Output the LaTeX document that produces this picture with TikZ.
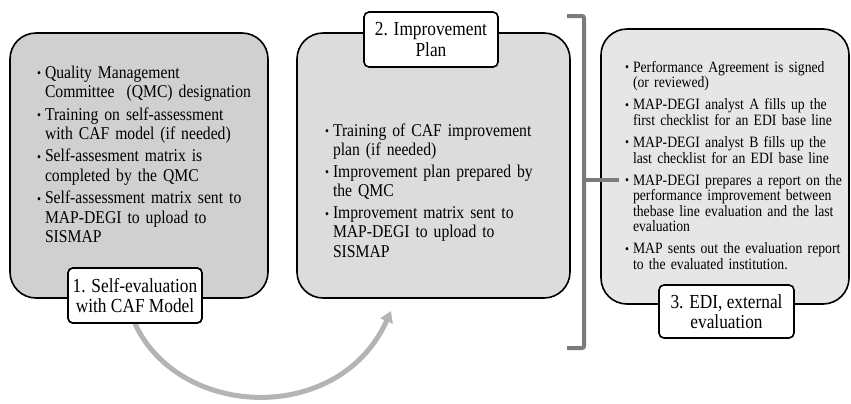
\documentclass[tikz,border=0pt]{standalone}
\usepackage{fontspec}
\setmainfont{Liberation Serif}[FakeStretch=0.87]
\usetikzlibrary{arrows.meta}

\definecolor{fillA}{HTML}{D0D0D0}
\definecolor{fillB}{HTML}{DCDCDC}
\definecolor{fillC}{HTML}{E6E6E6}
\definecolor{flowgray}{HTML}{B4B4B4}
\definecolor{bracketgray}{HTML}{7B7B7B}

% bullet item: bullet, then the item's lines stacked in a one-column table
\newcommand\bul[1]{\noindent
  \makebox[8bp][l]{\raisebox{0.04em}{\fontsize{13bp}{13bp}\selectfont\textbullet}}%
  \begin{tabular}[t]{@{}l@{}}#1\end{tabular}\par}

\begin{document}
\begin{tikzpicture}[x=1bp,y=-1bp,
  phase/.style={draw=black, line width=1.6bp, rounded corners=26bp, inner sep=0pt},
  tag/.style={draw=black, fill=white, line width=1.6bp, rounded corners=5bp,
    align=center, inner sep=0pt, font=\fontsize{19.9bp}{20.5bp}\selectfont},
  items/.style={anchor=base west, inner sep=0pt, outer sep=0pt,
    execute at begin node={\setlength{\parskip}{#1}}},
  flow/.style={draw=flowgray, line width=5bp, -{Triangle[length=11bp,width=13bp]}},
  bracket/.style={draw=bracketgray, line width=4bp, rounded corners=2bp}]

\useasboundingbox (0,0) rectangle (851,403);

% the three phase panels
\node[phase, fill=fillA, minimum width=258bp, minimum height=265bp] (p1) at (139,165.5) {};
\node[phase, fill=fillB, minimum width=273bp, minimum height=265bp] (p2) at (433.5,165.5) {};
\node[phase, fill=fillC, minimum width=248bp, minimum height=275bp] (p3) at (725,166.5) {};

% activities of each phase
\node[items=2bp, text width=222bp, font=\fontsize{18bp}{19.5bp}\selectfont] (t1) at (37,78) {%
\bul{Quality Management\\Committee\ \ (QMC) designation}
\bul{Training on self-assessment\\with CAF model (if needed)}
\bul{Self-assesment matrix is\\completed by the QMC}
\bul{Self-assessment matrix sent to\\MAP-DEGI to upload to\\SISMAP}};

\node[items=2.5bp, text width=232bp, font=\fontsize{18bp}{19bp}\selectfont] (t2) at (325,136) {%
\bul{Training of CAF improvement\\plan (if needed)}
\bul{Improvement plan prepared by\\the QMC}
\bul{Improvement matrix sent to\\MAP-DEGI to upload to\\SISMAP}};

\node[items=5.5bp, text width=220bp, font=\fontsize{15.75bp}{15.3bp}\selectfont] (t3) at (625,72) {%
\bul{Performance Agreement is signed\\(or reviewed)}
\bul{MAP-DEGI analyst A fills up the\\first checklist for an EDI base line}
\bul{MAP-DEGI analyst B fills up the\\last checklist for an EDI base line}
\bul{MAP-DEGI prepares a report on the\\performance improvement between\\thebase line evaluation and the last\\evaluation}
\bul{MAP sents out the evaluation report\\to the evaluated institution.}};

% flow from phase 1 to phase 2
\coordinate (flowend) at (391,311);
\node[tag, minimum width=134bp, minimum height=55bp] (l1) at (135,295.5) {1. Self-evaluation\\with CAF Model};
\draw[flow] (l1.south) .. controls (180,420) and (340,425) .. (flowend);
\node[tag, minimum width=134bp, minimum height=55bp] at (l1) {1. Self-evaluation\\with CAF Model};

\node[tag, minimum width=134bp, minimum height=55bp] (l2) at (431,39.5) {2. Improvement\\Plan};
\node[tag, minimum width=135bp, minimum height=53bp] (l3) at (726.5,311.5) {3. EDI, external\\evaluation};

% bracket grouping phases 1 and 2 into phase 3
\coordinate (bt) at (567,16);
\coordinate (bb) at (567,348);
\coordinate (bm) at (584,180);
\coordinate (btip) at (619,180);
\draw[bracket] (bt) -- (584,16) -- (584,348) -- (bb);
\draw[bracket] (bm) -- (btip);
\end{tikzpicture}
\end{document}
